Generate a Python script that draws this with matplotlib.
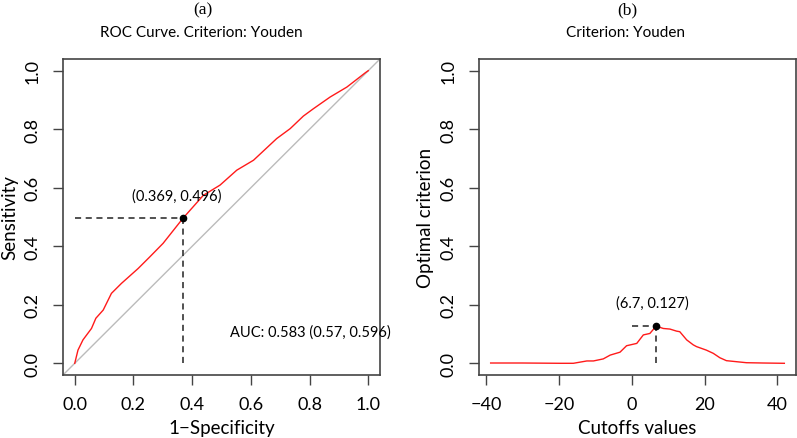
import numpy as np
import matplotlib
matplotlib.use("Agg")
import matplotlib.pyplot as plt

# ── Data ───────────────────────────────────────────────────────────────────────
roc_fpr = [0.0, 0.011, 0.028, 0.057, 0.072, 0.097, 0.125, 0.159, 0.216, 0.256,
           0.301, 0.369, 0.438, 0.495, 0.552, 0.609, 0.688, 0.734, 0.779, 0.813,
           0.870, 0.927, 0.990, 1.0]
roc_tpr = [0.0, 0.045, 0.080, 0.119, 0.154, 0.182, 0.239, 0.273, 0.324, 0.364,
           0.410, 0.496, 0.574, 0.609, 0.660, 0.694, 0.768, 0.802, 0.845, 0.870,
           0.910, 0.944, 0.993, 1.0]

cut_x = [-38.7, -30.0, -19.6, -16.0, -12.3, -10.5, -7.8, -5.9, -3.2, -1.4,
         1.4, 3.2, 5.0, 6.7, 8.7, 10.5, 12.3, 13.2, 15.1, 16.9, 17.8, 20.5,
         22.4, 24.2, 26.0, 31.5, 36.0, 41.9]
cut_y = [0.001, 0.001, 0.0, 0.0, 0.008, 0.008, 0.015, 0.028, 0.038, 0.060,
         0.068, 0.097, 0.102, 0.127, 0.119, 0.117, 0.110, 0.108, 0.080, 0.063,
         0.057, 0.045, 0.034, 0.019, 0.009, 0.002, 0.001, 0.0]

opt_roc = (0.369, 0.496)
opt_cut = (6.7, 0.127)
auc_text = "AUC: 0.583 (0.57, 0.596)"
ticks_01 = [0.0, 0.2, 0.4, 0.6, 0.8, 1.0]
ticks_cut = [-40, -20, 0, 20, 40]

# ── Style ──────────────────────────────────────────────────────────────────────
plt.rcParams["font.family"] = ["Lato", "DejaVu Sans"]
BOX = "#444444"
W, H = 797, 439


def style_axes(ax):
    for s in ax.spines.values():
        s.set_color(BOX)
        s.set_linewidth(1.2)
    ax.tick_params(direction="out", length=7, width=1.0, color=BOX,
                   labelsize=13)
    ax.tick_params(axis="x", pad=8)
    ax.tick_params(axis="y", pad=9)
    for lab in ax.get_yticklabels():
        lab.set_rotation(90)
        lab.set_va("center")


fig = plt.figure(figsize=(W / 100, H / 100), dpi=100)
ax1 = fig.add_axes([63 / W, (H - 376) / H, (380 - 63) / W, (376 - 60) / H])
ax2 = fig.add_axes([479 / W, (H - 376) / H, (796 - 479) / W, (376 - 60) / H])

# ── (a) ROC curve ──────────────────────────────────────────────────────────────
ax1.plot([-0.1, 1.1], [-0.1, 1.1], color="#bbbbbb", lw=1.0)
ax1.plot(roc_fpr, roc_tpr, color="#ff1a1a", lw=1.0)
ax1.plot([0, opt_roc[0]], [opt_roc[1], opt_roc[1]], color="#222222",
         lw=1.1, ls=(0, (4, 3)))
ax1.plot([opt_roc[0], opt_roc[0]], [0, opt_roc[1]], color="#222222",
         lw=1.1, ls=(0, (4, 3)))
ax1.plot(*opt_roc, "o", color="black", ms=4.5)
ax1.text(opt_roc[0] - 0.02, opt_roc[1] + 0.078, "(0.369, 0.496)",
         ha="center", va="center", fontsize=10.5)
ax1.text(0.529, 0.109, auc_text, ha="left", va="center", fontsize=10.5)
ax1.set_xlim(-0.04, 1.04)
ax1.set_ylim(-0.04, 1.04)
ax1.set_xticks(ticks_01)
ax1.set_yticks(ticks_01)
ax1.set_xticklabels([f"{t:.1f}" for t in ticks_01])
ax1.set_yticklabels([f"{t:.1f}" for t in ticks_01])
ax1.set_xlabel("1\u2212Specificity", fontsize=13.5, labelpad=5)
ax1.set_ylabel("Sensitivity", fontsize=13.5, labelpad=5)
style_axes(ax1)

# ── (b) criterion vs cutoff ────────────────────────────────────────────────────
ax2.plot(cut_x, cut_y, color="#ff1a1a", lw=1.0)
ax2.plot([0, opt_cut[0]], [opt_cut[1], opt_cut[1]], color="#222222",
         lw=1.1, ls=(0, (4, 3)))
ax2.plot([opt_cut[0], opt_cut[0]], [0, opt_cut[1]], color="#222222",
         lw=1.1, ls=(0, (4, 3)))
ax2.plot(*opt_cut, "o", color="black", ms=4.5)
ax2.text(opt_cut[0] - 1.1, opt_cut[1] + 0.081, "(6.7, 0.127)",
         ha="center", va="center", fontsize=10.5)
ax2.set_xlim(-41.9, 45.1)
ax2.set_ylim(-0.04, 1.04)
ax2.set_xticks(ticks_cut)
ax2.set_xticklabels([f"\u2212{-t}" if t < 0 else str(t) for t in ticks_cut])
ax2.set_yticks(ticks_01)
ax2.set_yticklabels([f"{t:.1f}" for t in ticks_01])
ax2.set_xlabel("Cutoffs values", fontsize=13.5, labelpad=5)
ax2.set_ylabel("Optimal criterion", fontsize=13.5, labelpad=5)
style_axes(ax2)

# ── Titles ─────────────────────────────────────────────────────────────────────
fig.text(203 / W, 1 - 10 / H, "(a)", ha="center", va="center",
         fontsize=12.5, family="Liberation Serif")
fig.text(201 / W, 1 - 33 / H, "ROC Curve. Criterion: Youden",
         ha="center", va="center", fontsize=11)
fig.text(627 / W, 1 - 10 / H, "(b)", ha="center", va="center",
         fontsize=12.5, family="Liberation Serif")
fig.text(626 / W, 1 - 33 / H, "Criterion: Youden",
         ha="center", va="center", fontsize=11)

fig.savefig("out.png", dpi=100)
